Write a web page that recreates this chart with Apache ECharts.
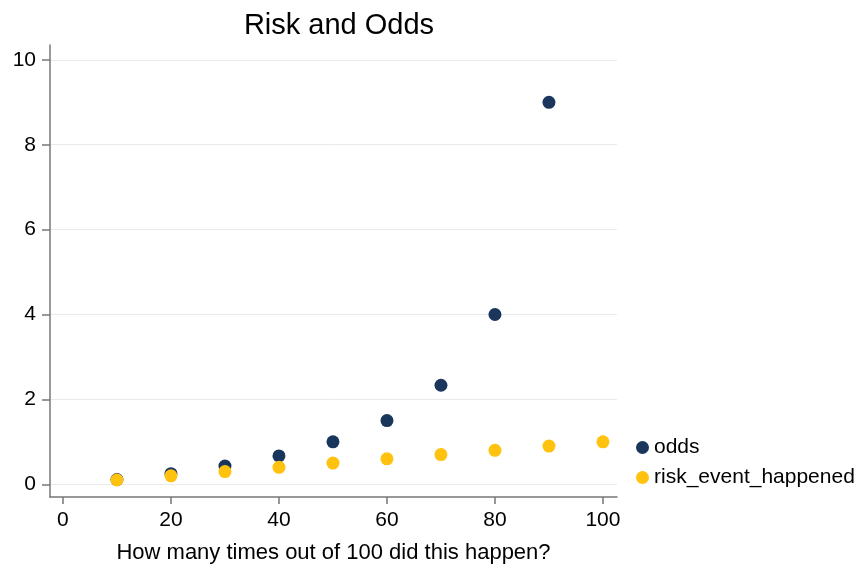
<!DOCTYPE html>
<html>
<head>
<meta charset="utf-8">
<script src="https://cdn.jsdelivr.net/npm/echarts@6/dist/echarts.min.js"></script>
<style>html,body{margin:0;padding:0;background:#fff}#c{width:866px;height:569px}</style>
</head>
<body>
<div id="c"></div>
<script>
const xValues = [10, 20, 30, 40, 50, 60, 70, 80, 90, 100];
const oddsValues = [0.111, 0.25, 0.429, 0.667, 1.0, 1.5, 2.333, 4.0, 9.0, null];
const riskValues = [0.1, 0.2, 0.3, 0.4, 0.5, 0.6, 0.7, 0.8, 0.9, 1.0];
const xTicks = [0, 20, 40, 60, 80, 100];
const yTicks = [0, 2, 4, 6, 8, 10];

const FONT = '"Liberation Sans", Arial, Helvetica, sans-serif';
const chart = echarts.init(document.getElementById('c'), null, {renderer: 'canvas'});
const pairs = (ys) => xValues.map((x, i) => [x, ys[i]]).filter(p => p[1] !== null);

chart.setOption({
  animation: false,
  backgroundColor: '#fff',
  title: {
    text: 'Risk and Odds',
    left: 334, top: 6, textAlign: 'center',
    textStyle: {fontFamily: FONT, fontSize: 29, fontWeight: 'normal', color: '#000'}
  },
  legend: {
    orient: 'vertical', left: 631, top: 432, itemGap: 9,
    itemWidth: 13, itemHeight: 13, icon: 'circle',
    textStyle: {fontFamily: FONT, fontSize: 21, color: '#000'},
    data: ['odds', 'risk_event_happened']
  },
  grid: {left: 50, right: 249, top: 45, bottom: 69, containLabel: false},
  xAxis: {
    type: 'value', min: -2.4, max: 102.6,
    name: 'How many times out of 100 did this happen?',
    nameLocation: 'middle', nameGap: 45,
    nameTextStyle: {fontFamily: FONT, fontSize: 22, color: '#000'},
    axisLine: {show: true, onZero: false, lineStyle: {color: '#777', width: 1.5}},
    axisTick: {show: true, length: 7, customValues: xTicks, lineStyle: {color: '#777', width: 1.5}},
    axisLabel: {customValues: xTicks, margin: 13, fontFamily: FONT, fontSize: 21, color: '#000'},
    splitLine: {show: false}
  },
  yAxis: {
    type: 'value', min: -0.3, max: 10.35,
    axisLine: {show: true, onZero: false, lineStyle: {color: '#777', width: 1.5}},
    axisTick: {show: true, length: 8, customValues: yTicks, lineStyle: {color: '#777', width: 1.5}},
    axisLabel: {customValues: yTicks, margin: 14, fontFamily: FONT, fontSize: 21, color: '#000'},
    splitLine: {show: true, lineStyle: {color: '#eaeaea', width: 1}}
  },
  series: [
    {name: 'odds', type: 'scatter', symbolSize: 13, itemStyle: {color: '#1a365d', opacity: 1}, data: pairs(oddsValues), z: 2},
    {name: 'risk_event_happened', type: 'scatter', symbolSize: 13, itemStyle: {color: '#ffc20e', opacity: 1}, data: pairs(riskValues), z: 3}
  ]
});
</script>
</body>
</html>
